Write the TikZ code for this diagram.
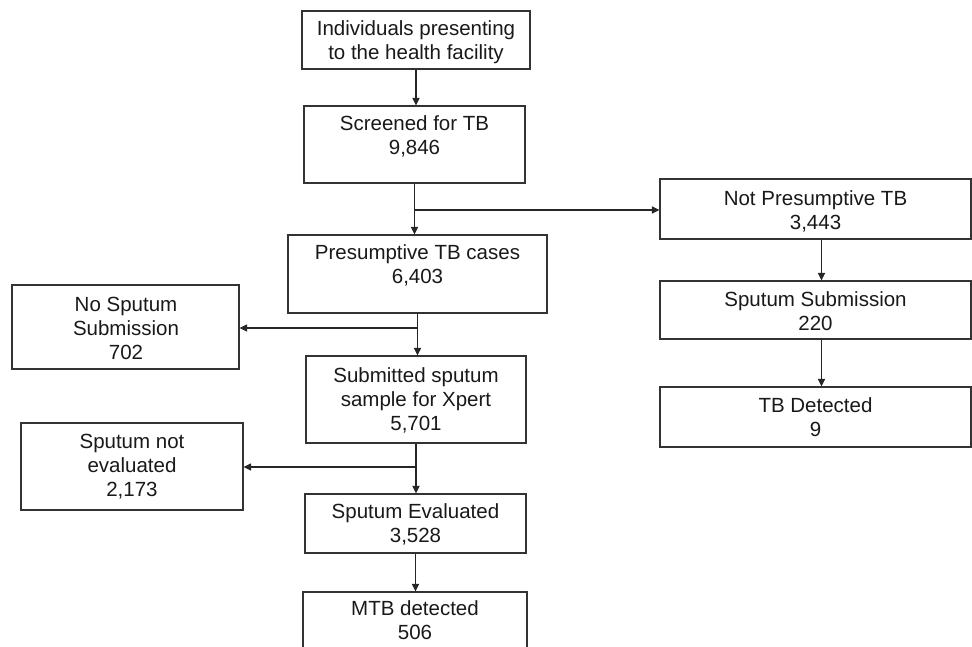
\documentclass[tikz,border=0pt]{standalone}
\usepackage{fontspec}
\setmainfont{Liberation Sans}
\usetikzlibrary{arrows.meta}
\begin{document}
\begin{tikzpicture}[x=1pt,y=-1pt,
  box/.style={draw=black!80, line width=1.1pt, rectangle, inner sep=0pt},
  txt/.style={anchor=base, align=center, inner sep=0pt, font=\fontsize{20.5}{24}\selectfont, text=black!90},
  arr/.style={draw=black!85, line width=1.1pt, -{Triangle[length=7.5pt,width=7pt]}}]
\useasboundingbox (0,0) rectangle (972,646);
\clip (0,0) rectangle (972,646);
% boxes
\node[box, minimum width=228pt, minimum height=58pt] (ind)   at (416,40) {};
\node[box, minimum width=221pt, minimum height=77pt] (scr)   at (414.5,144.5) {};
\node[box, minimum width=311pt, minimum height=60pt] (notp)  at (815.5,209) {};
\node[box, minimum width=259pt, minimum height=78pt] (pres)  at (417.5,274) {};
\node[box, minimum width=227pt, minimum height=84pt] (nosp)  at (125.5,327) {};
\node[box, minimum width=220pt, minimum height=87pt] (sub)   at (416,399.5) {};
\node[box, minimum width=311pt, minimum height=58pt] (spsub) at (815.5,310) {};
\node[box, minimum width=311pt, minimum height=60pt] (tbd)   at (815.5,417) {};
\node[box, minimum width=222pt, minimum height=87pt] (notev) at (132,466.5) {};
\node[box, minimum width=221pt, minimum height=59pt] (eval)  at (415.5,523.5) {};
\node[box, minimum width=224pt, minimum height=78pt] (mtb)   at (415,631) {};
% texts (anchor = baseline of last line)
\node[txt] (t-ind)   at (416,59)    {Individuals presenting\\to the health facility};
\node[txt] (t-scr)   at (414.5,154) {Screened for TB\\9,846};
\node[txt] (t-notp)  at (815.5,229) {Not Presumptive TB\\3,443};
\node[txt] (t-pres)  at (417.5,283) {Presumptive TB cases\\6,403};
\node[txt] (t-nosp)  at (126,359)   {No Sputum\\Submission\\702};
\node[txt] (t-sub)   at (416,430)   {Submitted sputum\\sample for Xpert\\5,701};
\node[txt] (t-spsub) at (815.5,330) {Sputum Submission\\220};
\node[txt] (t-tbd)   at (815.5,436) {TB Detected\\9};
\node[txt] (t-notev) at (132,496)   {Sputum not\\evaluated\\2,173};
\node[txt] (t-eval)  at (415.5,542) {Sputum Evaluated\\3,528};
\node[txt] (t-mtb)   at (415,639)   {MTB detected\\506};
% junctions
\coordinate (j1) at (414.5,210);
\coordinate (j2) at (417.5,328);
\coordinate (j3) at (416,467);
% connectors
\draw[arr] (ind.south) -- (ind.south |- scr.north);
\draw[arr] (scr.south) -- (scr.south |- pres.north);
\draw[arr] (j1) -- (j1 -| notp.west);
\draw[arr] (pres.south) -- (pres.south |- sub.north);
\draw[arr] (j2) -- (j2 -| nosp.east);
\draw[arr] (sub.south) -- (sub.south |- eval.north);
\draw[arr] (j3) -- (j3 -| notev.east);
\draw[arr] (eval.south) -- (eval.south |- mtb.north);
\draw[arr] ([xshift=6pt]notp.south) -- ([xshift=6pt]notp.south |- spsub.north);
\draw[arr] ([xshift=6pt]spsub.south) -- ([xshift=6pt]spsub.south |- tbd.north);
\end{tikzpicture}
\end{document}
